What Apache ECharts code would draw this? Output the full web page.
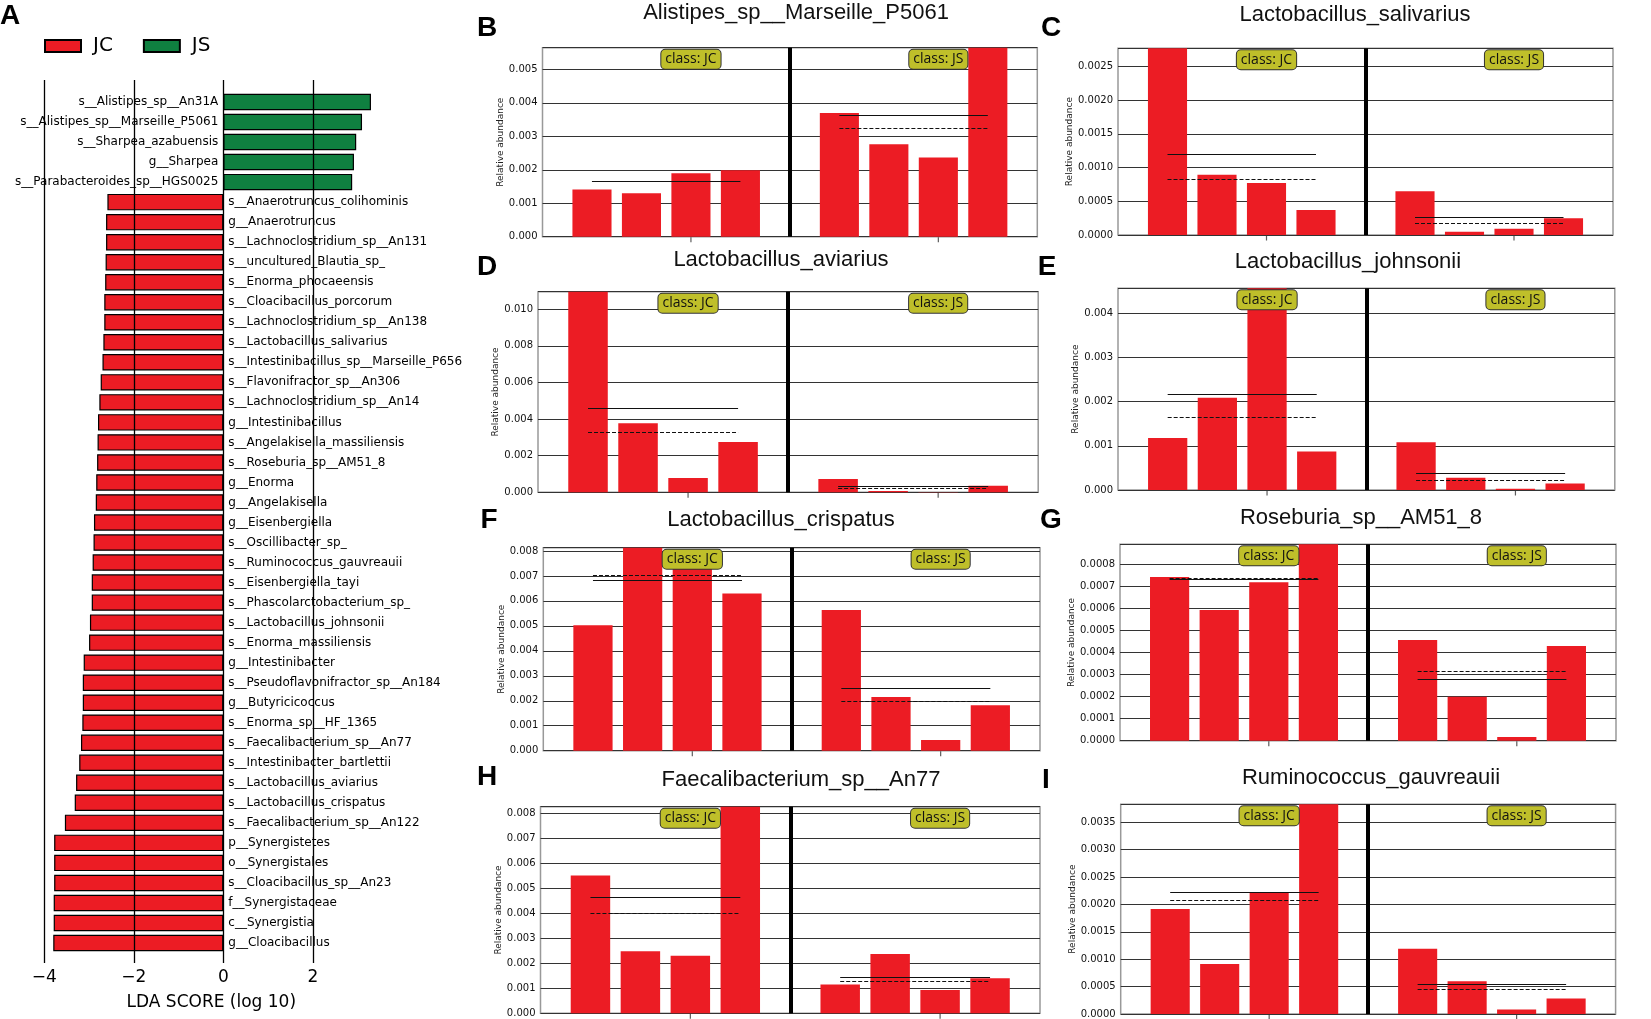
<!DOCTYPE html>
<html>
<head>
<meta charset="utf-8">
<script src="https://cdn.jsdelivr.net/npm/echarts@6/dist/echarts.min.js"></script>
<style>html,body{margin:0;padding:0;background:#fff;}#chart{width:1651px;height:1019px;}</style>
</head>
<body>
<div id="chart"></div>
<script>
// ---------- Panel A: LDA scores ----------
const ldaNames = [
  's__Alistipes_sp__An31A','s__Alistipes_sp__Marseille_P5061','s__Sharpea_azabuensis','g__Sharpea',
  's__Parabacteroides_sp__HGS0025','s__Anaerotruncus_colihominis','g__Anaerotruncus',
  's__Lachnoclostridium_sp__An131','s__uncultured_Blautia_sp_','s__Enorma_phocaeensis',
  's__Cloacibacillus_porcorum','s__Lachnoclostridium_sp__An138','s__Lactobacillus_salivarius',
  's__Intestinibacillus_sp__Marseille_P656','s__Flavonifractor_sp__An306','s__Lachnoclostridium_sp__An14',
  'g__Intestinibacillus','s__Angelakisella_massiliensis','s__Roseburia_sp__AM51_8','g__Enorma',
  'g__Angelakisella','g__Eisenbergiella','s__Oscillibacter_sp_','s__Ruminococcus_gauvreauii',
  's__Eisenbergiella_tayi','s__Phascolarctobacterium_sp_','s__Lactobacillus_johnsonii',
  's__Enorma_massiliensis','g__Intestinibacter','s__Pseudoflavonifractor_sp__An184','g__Butyricicoccus',
  's__Enorma_sp__HF_1365','s__Faecalibacterium_sp__An77','s__Intestinibacter_bartlettii',
  's__Lactobacillus_aviarius','s__Lactobacillus_crispatus','s__Faecalibacterium_sp__An122',
  'p__Synergistetes','o__Synergistales','s__Cloacibacillus_sp__An23','f__Synergistaceae',
  'c__Synergistia','g__Cloacibacillus'
];
const ldaScores = [
  3.30, 3.10, 2.97, 2.92, 2.88, -2.59, -2.62, -2.62, -2.63, -2.64, -2.66, -2.66, -2.68, -2.70,
  -2.74, -2.77, -2.80, -2.81, -2.82, -2.84, -2.85, -2.89, -2.90, -2.92, -2.94, -2.94, -2.98,
  -3.00, -3.12, -3.14, -3.14, -3.15, -3.18, -3.22, -3.29, -3.32, -3.54, -3.78, -3.78, -3.78,
  -3.79, -3.79, -3.80
];
const ldaTicks = [-4, -2, 0, 2];
const classNames = ['JC', 'JS'];

// ---------- Panels B-I: relative abundance ----------
const panelLetters = ['B','C','D','E','F','G','H','I'];
const panelTitles = ['Alistipes_sp__Marseille_P5061','Lactobacillus_salivarius','Lactobacillus_aviarius',
  'Lactobacillus_johnsonii','Lactobacillus_crispatus','Roseburia_sp__AM51_8',
  'Faecalibacterium_sp__An77','Ruminococcus_gauvreauii'];
const jcValues = [
  [0.00141, 0.00130, 0.00190, 0.00199],
  [0.00290, 0.000895, 0.000772, 0.000371],
  [0.01130, 0.00377, 0.00078, 0.00275],
  [0.00118, 0.00209, 0.00460, 0.00087],
  [0.00502, 0.00830, 0.00770, 0.00630],
  [0.000741, 0.000592, 0.000717, 0.000910],
  [0.00551, 0.00248, 0.00230, 0.00850],
  [0.00192, 0.000914, 0.00222, 0.00400]
];
const jsValues = [
  [0.00370, 0.00276, 0.00237, 0.00580],
  [0.000648, 0.000049, 0.000093, 0.000248],
  [0.00073, 0.00007, 0.00001, 0.00036],
  [0.00108, 0.00028, 0.00003, 0.00015],
  [0.00563, 0.00215, 0.00043, 0.00182],
  [0.000456, 0.000199, 0.000017, 0.000429],
  [0.00115, 0.00237, 0.00093, 0.00140],
  [0.00119, 0.00060, 0.00008, 0.000285]
];
const jcMean   = [0.00166, 0.00120, 0.00459, 0.00217, 0.00682, 0.000732, 0.00463, 0.00222];
const jcMedian = [0.00166, 0.000826, 0.00326, 0.00164, 0.00701, 0.000735, 0.00399, 0.00207];
const jsMean   = [0.00363, 0.000263, 0.000306, 0.000385, 0.00250, 0.000276, 0.00146, 0.000539];
const jsMedian = [0.00324, 0.000178, 0.00020, 0.000226, 0.00198, 0.000315, 0.00128, 0.000448];
const yMax  = [0.00565, 0.00277, 0.01096, 0.00457, 0.00813, 0.000889, 0.00826, 0.00383];
const yStep = [0.001, 0.0005, 0.002, 0.001, 0.001, 0.0001, 0.001, 0.0005];
const yDecimals = [3, 4, 3, 3, 3, 4, 3, 4];
const jcSlots = [1, 2, 3, 4];
const jsSlots = [6, 7, 8, 9];
const dividerSlot = 5;
const classLabelSlots = [3, 8];

// ---------- layout (pixels) ----------
const panelBoxes = [ // left, top, right, bottom
  [542.5, 47.7, 1037.3, 236.7],
  [1118, 48.3, 1613, 235],
  [538, 291.7, 1038.2, 492.3],
  [1118, 288.3, 1614.8, 490],
  [543.3, 547.7, 1040, 750.7],
  [1120, 544.3, 1616, 740.7],
  [540.5, 806.7, 1040, 1013.3],
  [1120.7, 804.3, 1615.6, 1015]
];
const titlePos = [[796,13],[1355,15],[781,260],[1348,262],[781,520],[1361,518],[801,780],[1371,778]];
const letterPos = [[487,28],[1051,28],[487,267],[1047,267],[489,520],[1051,520],[487,777],[1046,780]];

const FONT = 'DejaVu Sans';
const RED = '#ec1c24';
const GREEN = '#0f8040';

const chart = echarts.init(document.getElementById('chart'), null, {renderer: 'canvas'});

const option = {
  animation: false,
  backgroundColor: '#ffffff',
  textStyle: {fontFamily: FONT},
  legend: {
    left: 44, top: 36, padding: 0,
    data: classNames,
    icon: 'rect',
    itemWidth: 36, itemHeight: 12, itemGap: 30,
    textStyle: {fontSize: 20, fontFamily: FONT, color: '#000', padding: [0, 0, 0, 7]}
  },
  grid: [], xAxis: [], yAxis: [], series: [], graphic: []
};

// Panel A bars grid
option.grid.push({left: 44.3, top: 92, width: 358, height: 861});
option.xAxis.push({
  gridIndex: 0, type: 'value', min: -4, max: 4,
  axisLine: {show: false}, axisTick: {show: false}, axisLabel: {show: false}, splitLine: {show: false},
  name: 'LDA SCORE (log 10)', nameLocation: 'middle', nameGap: 41,
  nameTextStyle: {fontSize: 17, fontFamily: FONT, color: '#000', padding: [0, 24, 0, 0]}
});
option.yAxis.push({gridIndex: 0, type: 'category', data: ldaNames, inverse: true, show: false});

const barLabelBase = {show: true, formatter: '{b}', fontSize: 12, fontFamily: FONT, color: '#000', distance: 5};
option.series.push({
  name: 'JC', type: 'bar', xAxisIndex: 0, yAxisIndex: 0,
  data: ldaScores.map(v => v < 0 ? v : '-'),
  barCategoryGap: '18%', barGap: '-100%',
  itemStyle: {color: RED, borderColor: '#000', borderWidth: 1.2},
  label: Object.assign({position: 'right'}, barLabelBase),
  z: 2
});
option.series.push({
  name: 'JS', type: 'bar', xAxisIndex: 0, yAxisIndex: 0,
  data: ldaScores.map(v => v > 0 ? v : '-'),
  barCategoryGap: '18%', barGap: '-100%',
  itemStyle: {color: GREEN, borderColor: '#000', borderWidth: 1.2},
  label: Object.assign({position: 'left'}, barLabelBase),
  z: 2
});

// Panel A gridline grid
option.grid.push({left: 44.3, top: 80, width: 268.5, height: 883});
option.xAxis.push({
  gridIndex: 1, type: 'value', min: -4, max: 2, interval: 2,
  axisLine: {show: false}, axisTick: {show: false}, splitLine: {show: false},
  axisLabel: {fontSize: 17, fontFamily: FONT, color: '#000', margin: 6,
    formatter: v => String(v).replace('-', '\u2212')}
});
option.yAxis.push({gridIndex: 1, type: 'value', min: 0, max: 1, show: false});
option.series.push({
  type: 'scatter', xAxisIndex: 1, yAxisIndex: 1, data: [[0, 0.5]], symbolSize: 0, silent: true, z: 5,
  markLine: {
    silent: true, symbol: ['none', 'none'], label: {show: false},
    lineStyle: {color: '#000', width: 1.3, type: 'solid'},
    data: ldaTicks.map(v => ({xAxis: v}))
  }
});

// Text: A letter
option.graphic.push({type: 'text', x: 10, y: 16, style: {text: 'A', font: 'bold 28px "Liberation Sans"', fill: '#000', textAlign: 'center', textVerticalAlign: 'middle'}});

// Panels B-I
panelTitles.forEach((title, i) => {
  const gi = i + 2;
  const [l, t, r, b] = panelBoxes[i];
  const dec = yDecimals[i];
  option.grid.push({left: l, top: t, width: r - l, height: b - t, show: true,
    borderColor: '#999', borderWidth: 1.5, backgroundColor: '#fff'});
  option.xAxis.push({gridIndex: gi, type: 'value', min: 0, max: 10,
    axisLine: {show: false}, axisTick: {show: false}, axisLabel: {show: false}, splitLine: {show: false}});
  option.yAxis.push({gridIndex: gi, type: 'value', min: 0, max: yMax[i], interval: yStep[i],
    axisLine: {show: false}, axisTick: {show: false},
    splitLine: {lineStyle: {color: '#333', width: 1.2}},
    axisLabel: {showMaxLabel: false, fontSize: 10, fontFamily: FONT, color: '#111', margin: 5,
      formatter: v => v.toFixed(dec)},
    name: 'Relative abundance', nameLocation: 'middle', nameGap: dec === 4 ? 38 : 34,
    nameTextStyle: {fontSize: 9, fontFamily: FONT, color: '#222'}});

  const data = jcValues[i].map((v, k) => [jcSlots[k], v])
    .concat(jsValues[i].map((v, k) => [jsSlots[k], v]));
  const classLabel = (k) => ({
    coord: [classLabelSlots[k], yMax[i]],
    symbol: 'rect', symbolSize: 0,
    label: {show: true, position: 'bottom', distance: 2, formatter: 'class: ' + classNames[k],
      fontFamily: 'Open Sans', fontSize: 14, color: '#111', lineHeight: 15,
      backgroundColor: '#bfbf2a', borderColor: '#333', borderWidth: 1, borderRadius: 4,
      padding: [2, 4, 2, 4]}
  });
  option.series.push({
    type: 'bar', xAxisIndex: gi, yAxisIndex: gi, data: data,
    barWidth: '79%', itemStyle: {color: RED}, clip: true, silent: true, z: 2,
    markLine: {
      silent: true, symbol: ['none', 'none'], label: {show: false},
      lineStyle: {color: '#111', width: 1, type: 'solid'},
      data: [
        {xAxis: dividerSlot, lineStyle: {color: '#000', width: 4, type: 'solid'}},
        [{coord: [jcSlots[0], jcMean[i]]}, {coord: [jcSlots[3], jcMean[i]]}],
        [{coord: [jsSlots[0], jsMean[i]]}, {coord: [jsSlots[3], jsMean[i]]}],
        [{coord: [jcSlots[0], jcMedian[i]], lineStyle: {type: [4, 2]}}, {coord: [jcSlots[3], jcMedian[i]]}],
        [{coord: [jsSlots[0], jsMedian[i]], lineStyle: {type: [4, 2]}}, {coord: [jsSlots[3], jsMedian[i]]}]
      ]
    },
    markPoint: {silent: true, data: [classLabel(0), classLabel(1)]}
  });
  option.series.push({
    type: 'scatter', xAxisIndex: gi, yAxisIndex: gi, clip: false, silent: true,
    data: classLabelSlots.map(x => [x, 0]),
    symbol: 'rect', symbolSize: [1.2, 5], symbolOffset: [0, 3],
    itemStyle: {color: '#333'}, z: 3
  });

  option.graphic.push({type: 'text', x: titlePos[i][0], y: titlePos[i][1],
    style: {text: title, font: '22px "Liberation Sans"', fill: '#111', textAlign: 'center', textVerticalAlign: 'middle'}});
  option.graphic.push({type: 'text', x: letterPos[i][0], y: letterPos[i][1],
    style: {text: panelLetters[i], font: 'bold 28px "Liberation Sans"', fill: '#000', textAlign: 'center', textVerticalAlign: 'middle'}});
});

chart.setOption(option);
</script>
</body>
</html>
